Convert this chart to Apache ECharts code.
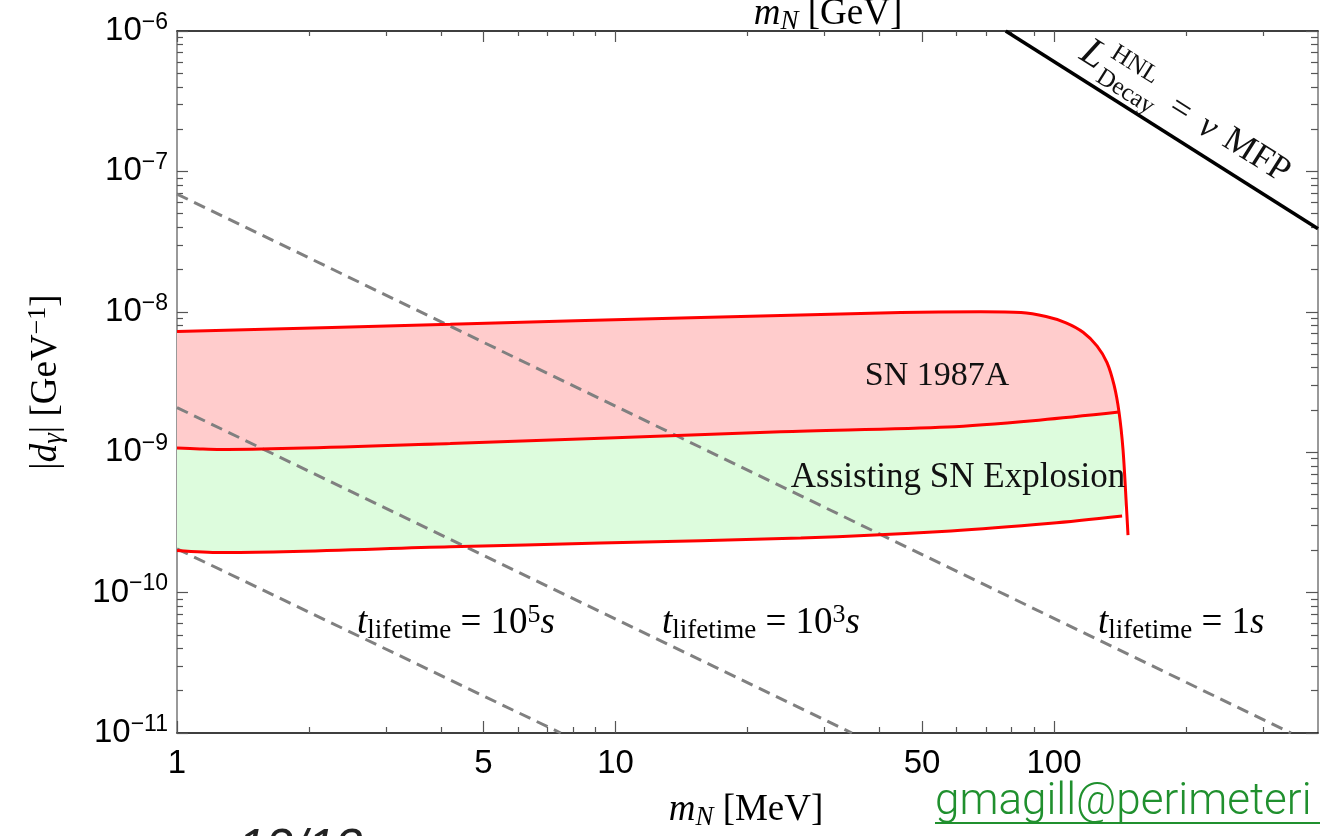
<!DOCTYPE html>
<html>
<head>
<meta charset="utf-8">
<title>SN 1987A dipole portal</title>
<script src="https://cdn.jsdelivr.net/npm/echarts@6/dist/echarts.min.js"></script>
<style>
  html, body { margin: 0; padding: 0; background: #fff; }
  #chart { width: 1320px; height: 836px; }
</style>
</head>
<body>
<div id="chart"></div>
<script>
// m_N [MeV] vs |d_gamma| [GeV^-1]
var snUpper = [
  [1, 7.24e-9], [4.2, 8.15e-9], [15.66, 9.11e-9], [44.75, 9.88e-9], [68.1, 1.0e-8],
  [84.1, 9.88e-9], [95.9, 9.25e-9], [106.5, 8.35e-9], [116.5, 7.15e-9], [125.4, 5.70e-9],
  [132.1, 4.35e-9], [137.1, 3.0e-9], [140.7, 1.93e-9]
]
// right edge of the SN 1987A region below the middle line
var snEdge = [
  [140.7, 1.93e-9], [143.7, 1.04e-9], [146.0, 4.57e-10], [147.5, 2.57e-10]
]
var snMiddle = [
  [1, 1.07e-9], [1.128, 1.054e-9], [1.254, 1.045e-9], [4.2, 1.153e-9], [23.8, 1.40e-9],
  [57.3, 1.512e-9], [93.4, 1.696e-9], [140.7, 1.93e-9]
]
var snLower = [
  [1, 1.995e-10], [1.254, 1.93e-10], [4.2, 2.12e-10], [9.24, 2.255e-10], [26.45, 2.45e-10],
  [58.2, 2.75e-10], [98.4, 3.115e-10], [143.0, 3.51e-10]
]
var tLife1s = [[1, 6.9e-8], [347, 1e-11]]
var tLife1e3 = [[1, 2.08e-9], [34.6, 1e-11]]
var tLife1e5 = [[1, 2.05e-10], [7.5, 1e-11]]
var decayMfp = [[77.6, 1e-6], [400, 3.9e-8]]

var xLabelTicks = [1, 5, 10, 50, 100]
var xMinorTicks = [2, 3, 4, 6, 7, 8, 9, 20, 30, 40, 60, 70, 80, 90, 200, 300]
var yDecades = [-11, -10, -9, -8, -7, -6]
var yMantissas = [2, 3, 4, 5, 6, 7, 8, 9]

var yMajor = yDecades.map(function (e) { return Math.pow(10, e) })
var yMinor = []
yDecades.slice(0, -1).forEach(function (e) {
  yMantissas.forEach(function (k) { yMinor.push(k * Math.pow(10, e)) })
})

var serif = 'Liberation Serif'
var sans = 'Liberation Sans'

function xAxisOf(pos, ticks, len, line, labels) {
  return {
    type: 'log', position: pos, min: 1, max: 400,
    axisLine: { show: line, lineStyle: { color: '#000', width: 1.5 } },
    axisTick: { show: true, inside: true, length: len, customValues: ticks, lineStyle: { color: '#555', width: 1.2 } },
    axisLabel: labels ? {
      show: true, customValues: xLabelTicks, margin: 14, color: '#000', fontSize: 33, fontFamily: sans
    } : { show: false },
    splitLine: { show: false },
    minorTick: { show: false }
  }
}

function yAxisOf(pos, ticks, len, line, labels) {
  return {
    type: 'log', position: pos, min: 1e-11, max: 1e-6,
    axisLine: { show: line, lineStyle: { color: '#777', width: 1.5 } },
    axisTick: { show: true, inside: true, length: len, customValues: ticks, lineStyle: { color: '#555', width: 1.2 } },
    axisLabel: labels ? {
      show: true, customValues: yMajor, margin: 9,
      formatter: function (v) {
        var e = Math.round(Math.log10(v))
        return '{b|10}{sup|\u2212' + (-e) + '}'
      },
      rich: {
        b: { fontSize: 33, fontFamily: sans, color: '#000', lineHeight: 40 },
        sup: { fontSize: 23, fontFamily: sans, color: '#000', lineHeight: 20, verticalAlign: 'top' }
      }
    } : { show: false },
    splitLine: { show: false },
    minorTick: { show: false }
  }
}

function band(pts, fill) {
  return {
    type: 'custom', silent: true, clip: true, z: 1,
    data: [[1, 1e-9]],
    renderItem: function (params, api) {
      return {
        type: 'polygon',
        shape: { points: pts.map(function (p) { return api.coord(p) }) },
        style: { fill: fill }
      }
    }
  }
}

function curve(data, color, width, dash, z, smooth) {
  return {
    type: 'line', data: data, showSymbol: false, clip: true, z: z, silent: true,
    smooth: smooth || false,
    lineStyle: { color: color, width: width, type: dash || 'solid' }
  }
}

var rm = { fontFamily: serif, fontSize: 37, color: '#111', lineHeight: 42 }
var it = { fontFamily: serif, fontSize: 37, fontStyle: 'italic', color: '#111', lineHeight: 42 }
var sub = { fontFamily: serif, fontSize: 27, color: '#111', lineHeight: 20, verticalAlign: 'bottom' }
var subi = { fontFamily: serif, fontSize: 27, fontStyle: 'italic', color: '#111', lineHeight: 20, verticalAlign: 'bottom' }
var sup = { fontFamily: serif, fontSize: 26, color: '#111', lineHeight: 20, verticalAlign: 'top' }
var richMath = { rm: rm, it: it, sub: sub, subi: subi, sup: sup }

function mathText(x, y, text, align, extra) {
  var el = {
    type: 'text', x: x, y: y, z: 10, silent: true,
    style: { text: text, rich: richMath, textAlign: align || 'left', textVerticalAlign: 'middle', align: align || 'left', verticalAlign: 'middle' }
  }
  if (extra) Object.keys(extra).forEach(function (k) { el[k] = extra[k] })
  return el
}

function plainText(x, y, text, font, align) {
  return {
    type: 'text', x: x, y: y, z: 10, silent: true,
    style: { text: text, font: font, fill: '#111', textAlign: align || 'center', textVerticalAlign: 'middle', align: align || 'center', verticalAlign: 'middle' }
  }
}

var pinkBand = snUpper.concat(snMiddle.slice().reverse())
var greenBand = snMiddle
  .concat(snEdge.filter(function (p) { return p[1] > snLower[snLower.length - 1][1] }))
  .concat(snLower.slice().reverse())

var chart = echarts.init(document.getElementById('chart'))
chart.setOption({
  animation: false,
  backgroundColor: '#fff',
  grid: { left: 177, right: 2, top: 31, bottom: 103, containLabel: false, outerBoundsMode: 'none' },
  xAxis: [
    xAxisOf('bottom', xLabelTicks, 12, true, true),
    xAxisOf('bottom', xMinorTicks, 6, false, false),
    xAxisOf('top', xLabelTicks, 11, true, false),
    xAxisOf('top', xMinorTicks, 5, false, false)
  ],
  yAxis: [
    yAxisOf('left', yMajor, 11, true, true),
    yAxisOf('left', yMinor, 6, false, false),
    yAxisOf('right', yMajor, 12, true, false),
    yAxisOf('right', yMinor, 7, false, false)
  ],
  series: [
    band(pinkBand, '#ffcccc'),
    band(greenBand, '#ddfcdd'),
    curve(tLife1s, '#808080', 3, [12, 7], 2),
    curve(tLife1e3, '#808080', 3, [12, 7], 2),
    curve(tLife1e5, '#808080', 3, [12, 7], 2),
    curve(snUpper.concat(snEdge.slice(1)), '#ff0000', 3, null, 3, 0.3),
    curve(snMiddle, '#ff0000', 3, null, 3, 0.3),
    curve(snLower, '#ff0000', 3, null, 3, 0.3),
    curve(decayMfp, '#000', 3.5, null, 3)
  ],
  graphic: [
    plainText(937, 376, 'SN 1987A', '34px "Liberation Serif"'),
    plainText(958, 478, 'Assisting SN Explosion', '35px "Liberation Serif"'),
    mathText(357, 623, '{it|t}{sub|lifetime}{rm| = 10}{sup|5}{it|s}'),
    mathText(662, 623, '{it|t}{sub|lifetime}{rm| = 10}{sup|3}{it|s}'),
    mathText(1098, 623, '{it|t}{sub|lifetime}{rm| = 1}{it|s}'),
    mathText(746, 810, '{it|m}{subi|N}{rm| [MeV]}', 'center'),
    mathText(828, 14, '{it|m}{subi|N}{rm| [GeV]}', 'center'),
    mathText(46, 382, '{rm||}{it|d}{subi|\u03b3}{rm|| [GeV}{sup|\u22121}{rm|]}', 'center', { rotation: Math.PI / 2 }),
    {
      type: 'group', x: 1093, y: 55, rotation: -0.564, silent: true, z: 10,
      children: [
        plainText(0, 0, 'L', 'italic 40px "Liberation Serif"'),
        plainText(15, -14, 'HNL', '25px "Liberation Serif"', 'left'),
        plainText(15, 14, 'Decay', '25px "Liberation Serif"', 'left'),
        plainText(103, 0, '=', '36px "Liberation Serif"'),
        plainText(136, 0, '\u03bd', 'italic 36px "Liberation Serif"'),
        plainText(192, -2, 'MFP', '36px "Liberation Serif"')
      ]
    },
    { type: 'text', x: 935, y: 803, z: 10, silent: true,
      style: { text: 'gmagill@perimeteri', font: '300 44px Roboto', fill: '#20902e', textAlign: 'left', textVerticalAlign: 'middle', align: 'left', verticalAlign: 'middle' } },
    { type: 'line', z: 10, silent: true, shape: { x1: 935, y1: 823, x2: 1320, y2: 823 }, style: { stroke: '#20902e', lineWidth: 2 } },
    { type: 'text', x: 300, y: 825, z: 10, silent: true,
      style: { text: '12/13', font: 'italic 50px "Liberation Sans"', fill: '#222', textAlign: 'center', textVerticalAlign: 'top', align: 'center', verticalAlign: 'top' } }
  ]
})
</script>
</body>
</html>
